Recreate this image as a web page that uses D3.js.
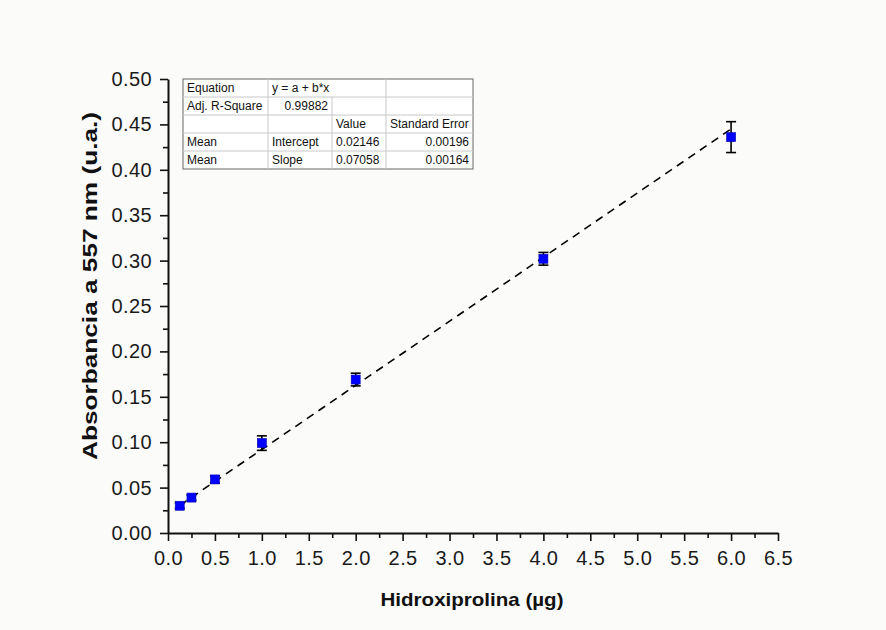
<!DOCTYPE html>
<html><head><meta charset="utf-8">
<script src="https://cdn.jsdelivr.net/npm/d3@7"></script>
<style>html,body{margin:0;padding:0;background:#fbfbfa;}svg{display:block;font-family:Arial,"Liberation Sans",sans-serif;}</style>
</head><body>
<svg id="c" width="886" height="630"></svg>
<script>
const xValues = [0.125, 0.25, 0.5, 1, 2, 4, 6];
const yValues = [0.030, 0.039, 0.059, 0.099, 0.169, 0.302, 0.436];
const yErrors = [0.003, 0.003, 0.004, 0.008, 0.007, 0.007, 0.017];
const fitIntercept = 0.02146;
const fitSlope = 0.07058;
const xTicks = [0,0.5,1,1.5,2,2.5,3,3.5,4,4.5,5,5.5,6,6.5];
const yTicks = [0,0.05,0.10,0.15,0.20,0.25,0.30,0.35,0.40,0.45,0.50];
const tableRows = [
  ["Equation","y = a + b*x","",""],
  ["Adj. R-Square","0.99882","",""],
  ["","","Value","Standard Error"],
  ["Mean","Intercept","0.02146","0.00196"],
  ["Mean","Slope","0.07058","0.00164"]
];

const svg = d3.select("#c");
const L=168,R=778,T=79,B=533;
const x = d3.scaleLinear().domain([0,6.5]).range([L,R]);
const y = d3.scaleLinear().domain([0,0.5]).range([B,T]);

const xMinor = d3.range(0,6.51,0.25).filter(v=>Math.abs(v*2-Math.round(v*2))>1e-6);
const yMinor = d3.range(0,0.501,0.025).filter(v=>Math.abs(v*20-Math.round(v*20))>1e-6);

svg.append("g").attr("class","maj").attr("transform",`translate(0,${B})`)
  .call(d3.axisBottom(x).tickValues(xTicks).tickFormat(d3.format(".1f")).tickSize(8).tickSizeOuter(0).tickPadding(10));
svg.append("g").attr("transform",`translate(0,${B})`)
  .call(d3.axisBottom(x).tickValues(xMinor).tickFormat("").tickSize(5).tickSizeOuter(0))
  .select(".domain").remove();
svg.append("g").attr("class","maj").attr("transform",`translate(${L},0)`)
  .call(d3.axisLeft(y).tickValues(yTicks).tickFormat(d3.format(".2f")).tickSize(8).tickSizeOuter(0).tickPadding(8));
svg.append("g").attr("transform",`translate(${L},0)`)
  .call(d3.axisLeft(y).tickValues(yMinor).tickFormat("").tickSize(5).tickSizeOuter(0))
  .select(".domain").remove();
svg.selectAll(".domain").attr("stroke","#111").attr("stroke-width",2);
svg.selectAll(".tick line").attr("stroke","#111").attr("stroke-width",1.6);
svg.selectAll(".tick text").attr("font-size",20).attr("letter-spacing","0.4px").attr("fill","#1a1a1a")
  .attr("font-family","Arial, 'Liberation Sans', sans-serif");

// fit line
svg.append("line")
  .attr("x1",x(xValues[0])).attr("y1",y(fitIntercept+fitSlope*xValues[0]))
  .attr("x2",x(xValues[xValues.length-1])).attr("y2",y(fitIntercept+fitSlope*xValues[xValues.length-1]))
  .attr("stroke","#000").attr("stroke-width",1.6).attr("stroke-dasharray","8,6");

// error bars
const pts = xValues.map((v,i)=>({x:v,y:yValues[i],e:yErrors[i]}));
const eb = svg.append("g").attr("stroke","#000").attr("stroke-width",1.6);
pts.forEach(p=>{
  eb.append("line").attr("x1",x(p.x)).attr("x2",x(p.x)).attr("y1",y(p.y-p.e)).attr("y2",y(p.y+p.e));
  eb.append("line").attr("x1",x(p.x)-5).attr("x2",x(p.x)+5).attr("y1",y(p.y-p.e)).attr("y2",y(p.y-p.e));
  eb.append("line").attr("x1",x(p.x)-5).attr("x2",x(p.x)+5).attr("y1",y(p.y+p.e)).attr("y2",y(p.y+p.e));
});
svg.append("g").selectAll("rect").data(pts).join("rect")
  .attr("x",d=>x(d.x)-4.5).attr("y",d=>y(d.y)-4.5).attr("width",9).attr("height",9)
  .attr("fill","#0000ff").attr("stroke","#0000b0").attr("stroke-width",0.6);

// axis titles
svg.append("text").attr("x",472).attr("y",606).attr("text-anchor","middle")
  .attr("font-size",19).attr("font-weight","bold").attr("fill","#111")
  .attr("textLength",183).attr("lengthAdjust","spacingAndGlyphs").text("Hidroxiprolina (µg)");
svg.append("text").attr("transform",`translate(97,286) rotate(-90)`).attr("text-anchor","middle")
  .attr("font-size",21).attr("font-weight","bold").attr("fill","#111")
  .attr("textLength",348).attr("lengthAdjust","spacingAndGlyphs").text("Absorbancia a 557 nm (u.a.)");

// table
const colX = [183,268,332,386,473];
const rowH = 18, tT = 79;
const tg = svg.append("g").attr("font-size",12).attr("fill","#111");
tg.append("rect").attr("x",colX[0]).attr("y",tT).attr("width",colX[4]-colX[0]).attr("height",rowH*5)
  .attr("fill","#ffffff").attr("stroke","#666").attr("stroke-width",1);
for(let r=1;r<5;r++){
  tg.append("line").attr("x1",colX[0]).attr("x2",colX[4]).attr("y1",tT+r*rowH).attr("y2",tT+r*rowH).attr("stroke","#c8c8c8");
}
for(let c=1;c<4;c++){
  for(let r=0;r<5;r++){
    if(r===0 && c===2) continue;
    tg.append("line").attr("x1",colX[c]).attr("x2",colX[c]).attr("y1",tT+r*rowH).attr("y2",tT+(r+1)*rowH).attr("stroke","#c8c8c8");
  }
}
tableRows.forEach((row,r)=>{
  row.forEach((txt,c)=>{
    if(!txt) return;
    const right = (r===1&&c===1)||(c===3&&r>=3);
    tg.append("text")
      .attr("x", right ? colX[c+1]-4 : colX[c]+4)
      .attr("y", tT+r*rowH+13)
      .attr("text-anchor", right?"end":"start")
      .text(txt);
  });
});
</script>
</body></html>
